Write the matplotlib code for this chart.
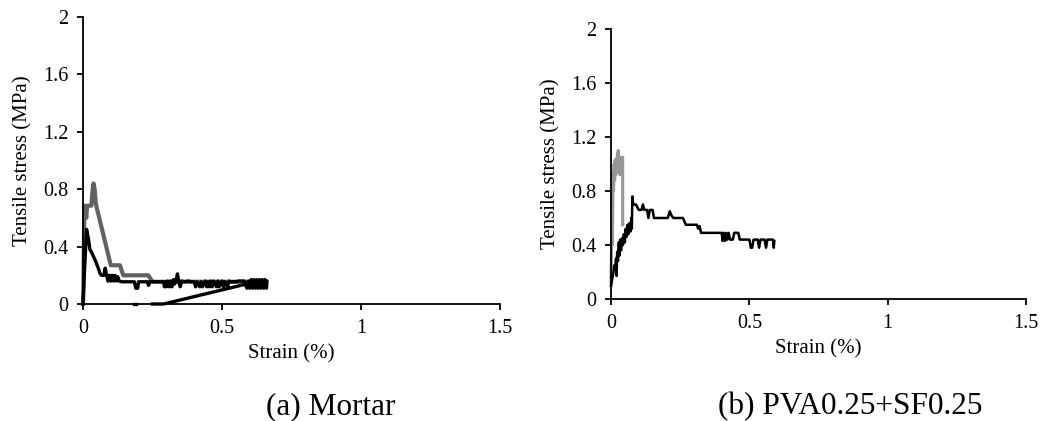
import matplotlib
matplotlib.use("Agg")
import matplotlib.pyplot as plt

plt.rcParams["font.family"] = ["Liberation Serif", "DejaVu Serif"]

# --- (a) Mortar: strain (%), stress (MPa) ---------------------------------
MORTAR_BLACK = [
    (0.0, 0.0), (0.006, 0.25), (0.013, 0.52), (0.02, 0.45), (0.025, 0.38),
    (0.031, 0.36), (0.045, 0.3), (0.055, 0.25), (0.062, 0.21), (0.067, 0.2),
    (0.075, 0.2), (0.08, 0.25), (0.085, 0.2), (0.09, 0.16), (0.095, 0.2),
    (0.1, 0.16), (0.105, 0.2), (0.11, 0.16), (0.115, 0.2), (0.12, 0.16),
    (0.125, 0.19), (0.13, 0.16), (0.14, 0.155), (0.185, 0.155), (0.19, 0.11),
    (0.197, 0.11), (0.2, 0.155), (0.232, 0.155), (0.236, 0.13), (0.24, 0.155),
    (0.29, 0.155), (0.293, 0.12), (0.297, 0.155), (0.3, 0.12), (0.305, 0.16),
    (0.31, 0.12), (0.315, 0.16), (0.32, 0.12), (0.325, 0.17), (0.33, 0.14),
    (0.335, 0.17), (0.34, 0.21), (0.345, 0.15), (0.35, 0.12), (0.355, 0.16),
    (0.365, 0.155), (0.38, 0.16), (0.39, 0.155), (0.4, 0.155), (0.405, 0.12),
    (0.41, 0.155), (0.42, 0.12), (0.425, 0.155), (0.43, 0.12), (0.44, 0.16),
    (0.445, 0.12), (0.45, 0.155), (0.455, 0.12), (0.46, 0.16), (0.465, 0.12),
    (0.47, 0.16), (0.48, 0.12), (0.485, 0.16), (0.49, 0.12), (0.5, 0.16),
    (0.505, 0.12), (0.51, 0.155), (0.52, 0.12), (0.525, 0.16), (0.53, 0.155),
    (0.55, 0.155), (0.56, 0.16), (0.58, 0.16), (0.59, 0.11), (0.595, 0.16),
    (0.6, 0.11), (0.605, 0.17), (0.61, 0.11), (0.615, 0.17), (0.62, 0.11),
    (0.625, 0.17), (0.63, 0.11), (0.635, 0.17), (0.64, 0.11), (0.645, 0.17),
    (0.65, 0.11), (0.655, 0.17), (0.66, 0.11), (0.662, 0.16),
    (0.6, 0.145), (0.29, 0.0), (0.25, 0.0),
]
MORTAR_DOT = [(0.183, 0.0), (0.19, 0.0)]
MORTAR_GRAY = [
    (0.0, 0.0), (0.002, 0.15), (0.004, 0.55), (0.006, 0.685), (0.012, 0.6),
    (0.015, 0.685), (0.03, 0.685), (0.035, 0.8), (0.038, 0.84), (0.042, 0.8),
    (0.046, 0.7), (0.1, 0.27), (0.133, 0.27), (0.145, 0.2), (0.15, 0.2),
    (0.235, 0.2), (0.25, 0.155), (0.3, 0.155), (0.45, 0.155), (0.6, 0.155),
    (0.62, 0.16),
]

# --- (b) PVA0.25+SF0.25 --------------------------------------------------
HYB_GRAY = [
    (0.0, 0.1), (0.002, 0.45), (0.004, 0.85), (0.005, 0.4), (0.007, 0.95),
    (0.009, 0.8), (0.011, 1.0), (0.013, 0.88), (0.015, 1.03), (0.017, 0.92),
    (0.019, 1.04), (0.021, 0.95), (0.023, 1.06), (0.026, 1.1), (0.028, 0.94),
    (0.03, 1.05), (0.032, 0.92), (0.034, 1.05), (0.036, 0.93), (0.038, 1.05),
    (0.04, 1.04), (0.042, 1.05), (0.042, 0.55),
]
HYB_BLACK = [
    (0.0, 0.1), (0.008, 0.19), (0.012, 0.25), (0.015, 0.22), (0.018, 0.3),
    (0.02, 0.17), (0.022, 0.35), (0.025, 0.28), (0.028, 0.42), (0.03, 0.32),
    (0.033, 0.44), (0.036, 0.36), (0.04, 0.45), (0.043, 0.4), (0.046, 0.48),
    (0.05, 0.42), (0.053, 0.52), (0.056, 0.46), (0.06, 0.55), (0.063, 0.48),
    (0.066, 0.56), (0.07, 0.5), (0.073, 0.6), (0.075, 0.52), (0.077, 0.76),
    (0.08, 0.7), (0.09, 0.7), (0.1, 0.66), (0.11, 0.66), (0.115, 0.7),
    (0.12, 0.66), (0.13, 0.66), (0.135, 0.6), (0.14, 0.66), (0.15, 0.66),
    (0.155, 0.6), (0.205, 0.6), (0.212, 0.65), (0.218, 0.62), (0.225, 0.6),
    (0.26, 0.6), (0.27, 0.55), (0.31, 0.55), (0.315, 0.52), (0.32, 0.54),
    (0.325, 0.49), (0.4, 0.49), (0.403, 0.43), (0.407, 0.49), (0.412, 0.43),
    (0.416, 0.49), (0.42, 0.44), (0.425, 0.49), (0.43, 0.44), (0.44, 0.44),
    (0.445, 0.49), (0.46, 0.49), (0.465, 0.44), (0.5, 0.44), (0.505, 0.38),
    (0.51, 0.38), (0.515, 0.44), (0.53, 0.44), (0.535, 0.38), (0.54, 0.44),
    (0.555, 0.44), (0.56, 0.38), (0.565, 0.44), (0.585, 0.44), (0.588, 0.38),
    (0.59, 0.43),
]

X_TICKS = [0, 0.5, 1, 1.5]
X_LABELS = ["0", "0.5", "1", "1.5"]
Y_TICKS = [0, 0.4, 0.8, 1.2, 1.6, 2]
Y_LABELS = ["0", "0.4", "0.8", "1.2", "1.6", "2"]


def style(ax, height_px):
    ax.set_xlim(0, 1.5)
    ax.set_ylim(0, 2)
    ax.set_xticks(X_TICKS, X_LABELS)
    ax.set_yticks(Y_TICKS, Y_LABELS)
    ax.spines["top"].set_visible(False)
    ax.spines["right"].set_visible(False)
    for s in ("left", "bottom"):
        ax.spines[s].set_linewidth(1.3)
    ax.tick_params(direction="out", length=4.5, width=1.3, labelsize=14.5, pad=6)
    ax.set_xlabel("Strain (%)", fontsize=15, va="center")
    ax.set_ylabel("Tensile stress (MPa)", fontsize=15, va="center")
    ax.xaxis.set_label_coords(0.5, -50 / height_px)
    ax.yaxis.set_label_coords(-0.145, 0.5)


def xy(pts):
    return [p[0] for p in pts], [p[1] for p in pts]


fig = plt.figure(figsize=(10.41, 4.21), dpi=100)
ax1 = fig.add_axes([0.0797, 0.2779, 0.4006, 0.6817])
ax2 = fig.add_axes([0.587, 0.2898, 0.3987, 0.6413])

ax1.plot(*xy(MORTAR_GRAY), color="#626262", lw=3.0, clip_on=False, zorder=2)
ax1.plot(*xy(MORTAR_BLACK), color="black", lw=2.4, clip_on=False, zorder=3)
ax1.plot(*xy(MORTAR_DOT), color="black", lw=2.4, clip_on=False, zorder=3)
style(ax1, 287)

ax2.plot(*xy(HYB_GRAY), color="#969696", lw=2.2, clip_on=False, zorder=2)
ax2.plot(*xy(HYB_BLACK), color="black", lw=1.8, clip_on=False, zorder=3)
style(ax2, 270)

fig.text(0.318, 0.035, "(a) Mortar", ha="center", va="center", fontsize=22.5)
fig.text(0.8165, 0.035, "(b) PVA0.25+SF0.25", ha="center", va="center", fontsize=22.5)

fig.savefig("out.png", dpi=100)
